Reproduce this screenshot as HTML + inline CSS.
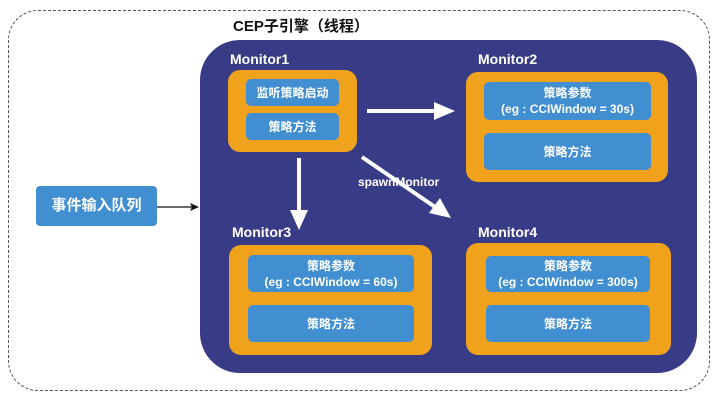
<!DOCTYPE html>
<html><head><meta charset="utf-8"><style>
body{margin:0;width:720px;height:412px;background:#fff;position:relative;overflow:hidden;font-family:"Liberation Sans","Noto Sans CJK SC",sans-serif;font-weight:bold}
.a{position:absolute;box-sizing:border-box}
.or{background:#f0a21c;border-radius:12px}
.bl{background:#418fd0;border-radius:5px;color:#fff;display:flex;align-items:center;justify-content:center;text-align:center;font-size:12px;line-height:16px}
.lb{color:#fff;font-size:14px}
</style></head><body>
<div class="a" style="left:8px;top:10px;width:702px;height:381px;border:1px dashed #555;border-radius:30px"></div>
<div class="a" style="left:233px;top:15px;font-size:15px;color:#111">CEP子引擎（线程）</div>
<div class="a" style="left:200px;top:40px;width:497px;height:333px;background:#383c87;border-radius:40px"></div>
<div class="a lb" style="left:230px;top:51px">Monitor1</div>
<div class="a lb" style="left:478px;top:51px">Monitor2</div>
<div class="a lb" style="left:232px;top:224px">Monitor3</div>
<div class="a lb" style="left:478px;top:224px">Monitor4</div>
<div class="a or" style="left:228px;top:70px;width:129px;height:82px"></div>
<div class="a bl" style="left:246px;top:79px;width:93px;height:27px">监听策略启动</div>
<div class="a bl" style="left:246px;top:113px;width:93px;height:27px">策略方法</div>
<div class="a or" style="left:466px;top:72px;width:202px;height:110px"></div>
<div class="a bl" style="left:484px;top:82px;width:167px;height:38px">策略参数<br>(eg : CCIWindow = 30s)</div>
<div class="a bl" style="left:484px;top:133px;width:167px;height:37px">策略方法</div>
<div class="a or" style="left:229px;top:245px;width:203px;height:110px"></div>
<div class="a bl" style="left:248px;top:255px;width:166px;height:37px">策略参数<br>(eg : CCIWindow = 60s)</div>
<div class="a bl" style="left:248px;top:305px;width:166px;height:37px">策略方法</div>
<div class="a or" style="left:466px;top:243px;width:205px;height:112px"></div>
<div class="a bl" style="left:486px;top:256px;width:164px;height:36px">策略参数<br>(eg : CCIWindow = 300s)</div>
<div class="a bl" style="left:486px;top:305px;width:164px;height:37px">策略方法</div>
<div class="a bl" style="left:36px;top:186px;width:121px;height:40px;font-size:15px;border-radius:4px">事件输入队列</div>
<div class="a" style="left:358px;top:175px;color:#fff;font-size:12px">spawnMonitor</div>
<svg class="a" style="left:0;top:0" width="720" height="412">
<line x1="157" y1="207" x2="192" y2="207" stroke="#111" stroke-width="1.2"/>
<polygon points="199,207 190,203 192,207 190,211" fill="#111"/>
<g stroke="#fff" stroke-width="4"><line x1="367" y1="111" x2="440" y2="111"/><line x1="299" y1="158" x2="299" y2="214"/><line x1="362" y1="157" x2="438" y2="209"/></g>
<g fill="#fff"><polygon points="455,111 434,102 434,120"/><polygon points="299,230 290,210 308,210"/><polygon points="451,218 429,213 440,198"/></g>
</svg>
</body></html>
